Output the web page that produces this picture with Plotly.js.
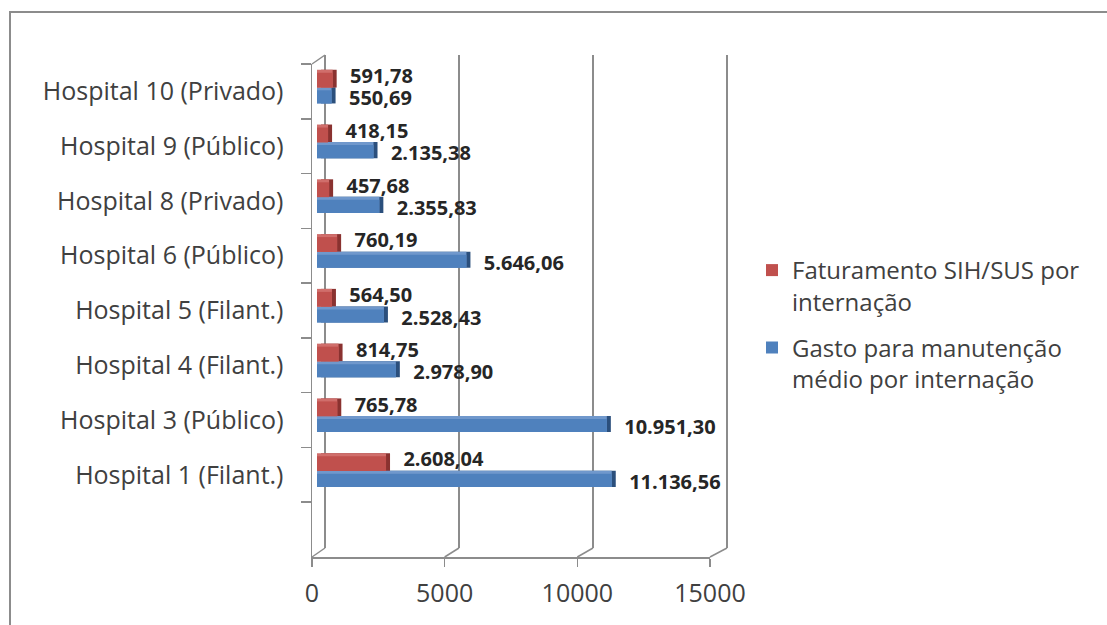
<!DOCTYPE html>
<html>
<head>
<meta charset="utf-8">
<script src="https://cdn.plot.ly/plotly-3.0.1.min.js"></script>
<style>html,body{margin:0;padding:0;background:#fff;}#chart{width:1107px;height:625px;}</style>
</head>
<body>
<div id="chart"></div>
<script>
// ---- data ----
const hospitals = [
  'Hospital 1 (Filant.)',
  'Hospital 3 (Público)',
  'Hospital 4 (Filant.)',
  'Hospital 5 (Filant.)',
  'Hospital 6 (Público)',
  'Hospital 8 (Privado)',
  'Hospital 9 (Público)',
  'Hospital 10 (Privado)'
];
const faturamento = [2608.04, 765.78, 814.75, 564.50, 760.19, 457.68, 418.15, 591.78];
const gasto = [11136.56, 10951.30, 2978.90, 2528.43, 5646.06, 2355.83, 2135.38, 550.69];
const seriesNames = ['Faturamento SIH/SUS por<br>internação', 'Gasto para manutenção<br>médio por internação'];
const xTicks = [0, 5000, 10000, 15000];
const categories = [' '].concat(hospitals);

// ---- geometry / style ----
const W = 1107, H = 625;
const px = v => v / W;
const py = v => 1 - v / H;
const XMAX = 15000;
const FRONT = {x0: 312, x1: 710, yb: 557, yt: 64};
const BACK = {x0: 325, x1: 727, yb: 548, yt: 55};
const BARS = {x0: 317, x1: 714};
const SIDE = {dx: 4, dy: 3};
const GRAY = '#8c8c8c';
const TXT = '#404040';
const FONT = 'Open Sans, Liberation Sans, sans-serif';
const PADV = 150; // range padding on back wall so edge gridlines are drawn

function fmt(v) {
  const parts = v.toFixed(2).split('.');
  return parts[0].replace(/\B(?=(\d{3})+(?!\d))/g, '.') + ',' + parts[1];
}

const RED = {front: '#C0504D', top: '#D06E6B', side: '#8A3230'};
const BLUE = {front: '#4F81BD', top: '#7098CC', side: '#2B4F7C'};
const redGeo = {offset: 0.07, width: 0.27};
const blueGeo = {offset: -0.22, width: 0.24};
const redLabelGeo = {offset: 0.21, width: 0.16};
const blueLabelGeo = {offset: -0.20, width: 0.16};
const topExtra = SIDE.dy / ((FRONT.yb - FRONT.yt) / 9);
const LABEL_FONT = {family: FONT, size: 20, color: '#262626', weight: 700};

function barTrace(vals, geo, color, axes, extra, opts) {
  return Object.assign({
    type: 'bar', orientation: 'h', x: vals, y: hospitals,
    offset: geo.offset, width: geo.width + (extra || 0),
    marker: {color: color, line: {width: 0}},
    xaxis: axes[0], yaxis: axes[1],
    hoverinfo: 'skip', showlegend: false
  }, opts || {});
}
function labelTrace(vals, geo) {
  return barTrace(vals, geo, 'rgba(0,0,0,0)', ['x2', 'y2'], 0, {
    text: vals.map(v => '\u00a0\u00a0' + fmt(v)), textposition: 'outside',
    constraintext: 'none', cliponaxis: false, textfont: LABEL_FONT
  });
}

const data = [
  // back wall holder
  {type: 'scatter', mode: 'markers', x: gasto, y: hospitals, xaxis: 'x', yaxis: 'y',
   marker: {opacity: 0}, hoverinfo: 'skip', showlegend: false},
  // side faces
  barTrace(gasto, blueGeo, BLUE.side, ['x2', 'y2'], topExtra),
  barTrace(faturamento, redGeo, RED.side, ['x2', 'y2'], topExtra),
  // data labels
  labelTrace(faturamento, redLabelGeo),
  labelTrace(gasto, blueLabelGeo),
  // top faces
  barTrace(gasto, blueGeo, BLUE.top, ['x3', 'y3'], topExtra),
  barTrace(faturamento, redGeo, RED.top, ['x3', 'y3'], topExtra),
  // front faces
  barTrace(faturamento, redGeo, RED.front, ['x3', 'y3'], 0, {
    name: seriesNames[0], showlegend: true, legendgroup: 'a'}),
  barTrace(gasto, blueGeo, BLUE.front, ['x3', 'y3'], 0, {
    name: seriesNames[1], showlegend: true, legendgroup: 'b'}),
  // front axes holder
  {type: 'scatter', mode: 'markers', x: gasto, y: hospitals, xaxis: 'x4', yaxis: 'y4',
   marker: {opacity: 0}, hoverinfo: 'skip', showlegend: false}
];

const catAxis = {
  type: 'category', categoryorder: 'array', categoryarray: categories,
  range: [-0.5, categories.length - 0.5], fixedrange: true
};
const hiddenX = {range: [0, XMAX], visible: false, fixedrange: true};

const shapes = [];
xTicks.forEach(v => {
  const f = FRONT.x0 + v / XMAX * (FRONT.x1 - FRONT.x0);
  const b = BACK.x0 + v / XMAX * (BACK.x1 - BACK.x0);
  shapes.push({type: 'line', xref: 'paper', yref: 'paper',
    x0: px(f), y0: py(FRONT.yb), x1: px(b), y1: py(BACK.yb),
    line: {color: GRAY, width: 1.5}});
});
shapes.push({type: 'line', xref: 'paper', yref: 'paper',
  x0: px(FRONT.x0), y0: py(FRONT.yt), x1: px(BACK.x0), y1: py(BACK.yt),
  line: {color: GRAY, width: 1.5}});
// outer chart frame
shapes.push({type: 'rect', xref: 'paper', yref: 'paper',
  x0: px(10), y0: -0.05, x1: 1.05, y1: py(12),
  line: {color: GRAY, width: 2}, fillcolor: 'rgba(0,0,0,0)'});

const backScale = (BACK.x1 - BACK.x0) / XMAX;

const layout = {
  width: W, height: H,
  margin: {l: 0, r: 0, t: 0, b: 0, pad: 0},
  paper_bgcolor: '#ffffff', plot_bgcolor: 'rgba(0,0,0,0)',
  barmode: 'overlay',
  font: {family: FONT, color: TXT},
  showlegend: true,
  legend: {
    x: px(752), y: py(248), xanchor: 'left', yanchor: 'top',
    font: {family: FONT, size: 24, color: TXT},
    traceorder: 'grouped', tracegroupgap: 12, valign: 'top',
    bgcolor: 'rgba(0,0,0,0)', itemwidth: 30
  },
  xaxis: {domain: [px(BACK.x0 - PADV * backScale), px(BACK.x1 + PADV * backScale)],
    range: [-PADV, XMAX + PADV], tickmode: 'array', tickvals: xTicks,
    showgrid: true, gridcolor: GRAY, gridwidth: 1.5, zeroline: false,
    showticklabels: false, ticks: '', showline: false, fixedrange: true, anchor: 'y'},
  yaxis: Object.assign({}, catAxis, {domain: [py(BACK.yb), py(BACK.yt)], anchor: 'x',
    showline: false, showgrid: false, showticklabels: false, ticks: ''}),
  xaxis2: Object.assign({}, hiddenX, {domain: [px(BARS.x0 + SIDE.dx), px(BARS.x1 + SIDE.dx)], anchor: 'y2'}),
  yaxis2: Object.assign({}, catAxis, {domain: [py(FRONT.yb), py(FRONT.yt)], anchor: 'x2', visible: false}),
  xaxis3: Object.assign({}, hiddenX, {domain: [px(BARS.x0), px(BARS.x1)], anchor: 'y3'}),
  yaxis3: Object.assign({}, catAxis, {domain: [py(FRONT.yb), py(FRONT.yt)], anchor: 'x3', visible: false}),
  xaxis4: {domain: [px(FRONT.x0), px(FRONT.x1)], range: [0, XMAX], anchor: 'y4',
    tickmode: 'array', tickvals: xTicks, ticktext: xTicks.map(String),
    ticks: 'outside', ticklen: 8, tickwidth: 1.5, tickcolor: GRAY,
    ticklabelstandoff: 5,
    showline: true, linecolor: GRAY, linewidth: 1.5, showgrid: false, zeroline: false,
    tickfont: {family: FONT, size: 25, color: TXT}, fixedrange: true},
  yaxis4: Object.assign({}, catAxis, {domain: [py(FRONT.yb), py(FRONT.yt)], anchor: 'x4',
    showline: true, linecolor: GRAY, linewidth: 1.5, showgrid: false, zeroline: false,
    ticks: 'outside', tickson: 'boundaries', ticklen: 10, tickwidth: 1.5, tickcolor: GRAY,
    ticklabelstandoff: 22,
    tickfont: {family: FONT, size: 25, color: TXT}}),
  shapes: shapes
};

Plotly.newPlot('chart', data, layout, {displayModeBar: false, staticPlot: true});
</script>
</body>
</html>
